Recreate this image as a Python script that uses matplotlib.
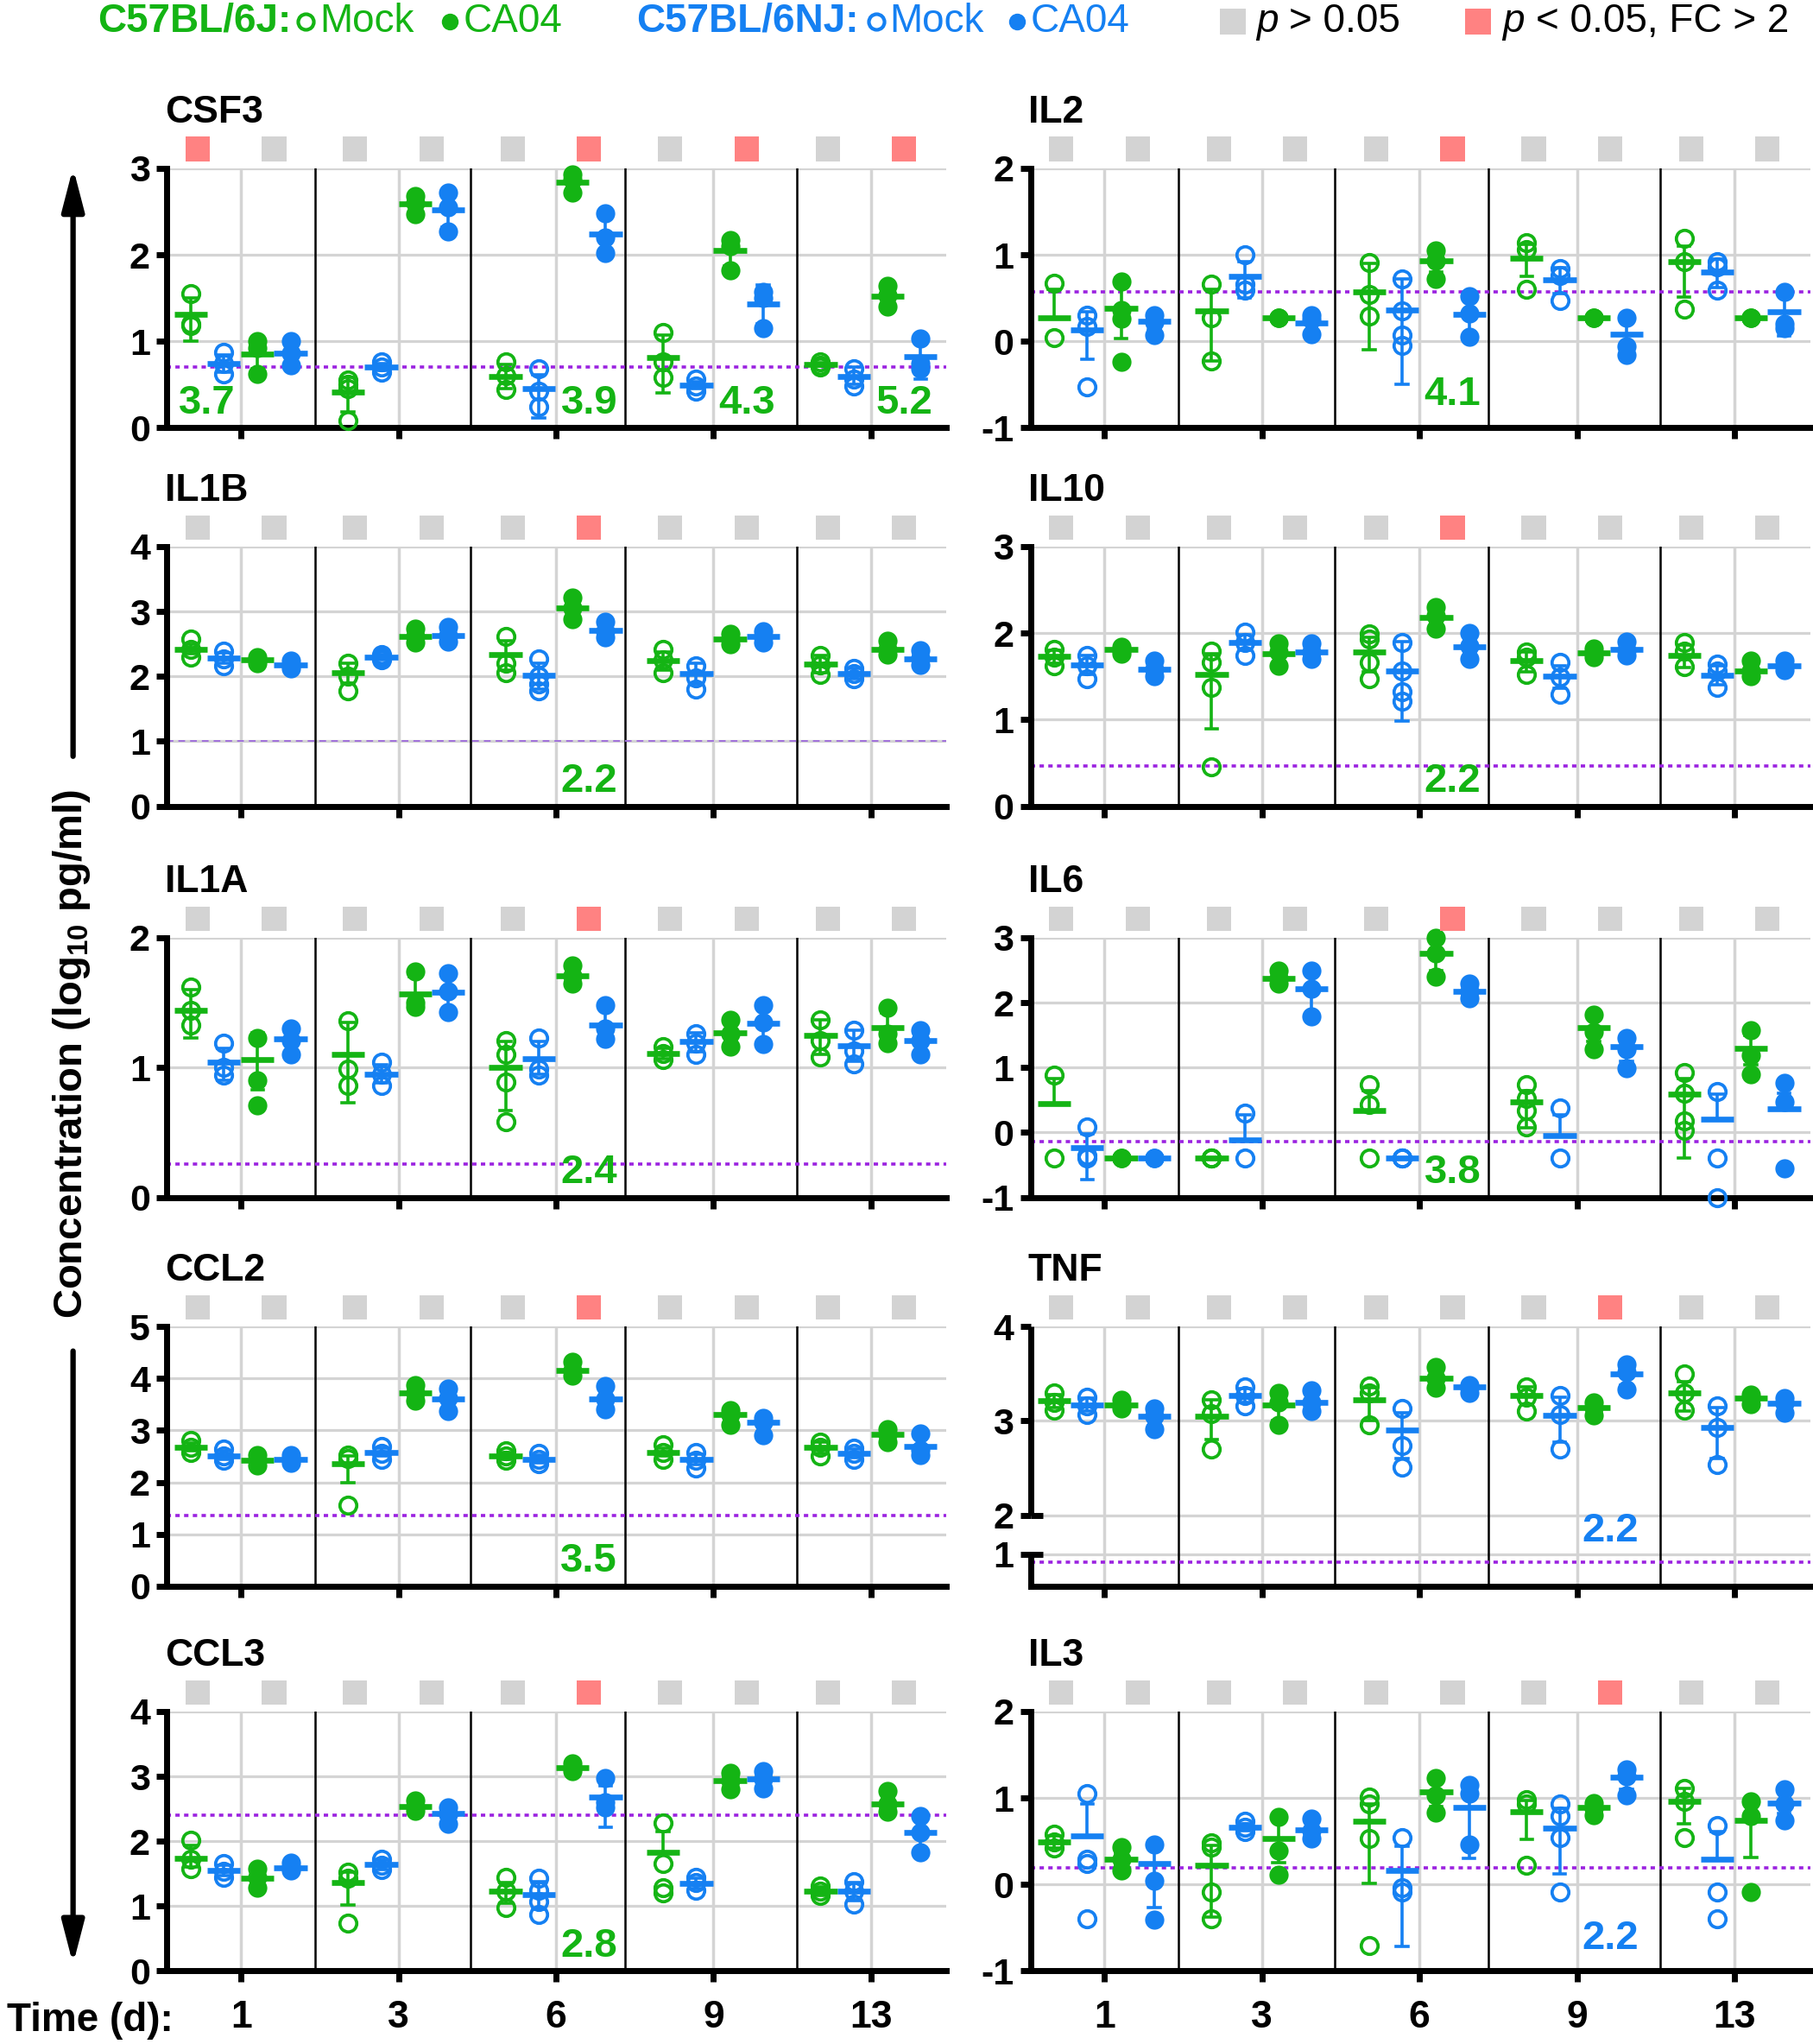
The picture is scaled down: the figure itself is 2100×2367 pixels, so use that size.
import numpy as np
import matplotlib.pyplot as plt
from matplotlib.lines import Line2D
from matplotlib.patches import FancyArrowPatch
from matplotlib.transforms import blended_transform_factory

plt.rcParams['font.family'] = ['Liberation Sans', 'DejaVu Sans']
plt.rcParams['font.weight'] = 'bold'
plt.rcParams['mathtext.fontset'] = 'custom'
plt.rcParams['mathtext.rm'] = 'Liberation Sans'
plt.rcParams['mathtext.bf'] = 'Liberation Sans:bold'

GREEN = '#14B414'
BLUE = '#1580F2'
PURPLE = '#9B22E0'
GRID = '#D4D4D4'
SQ_GREY = '#D3D3D3'
SQ_RED = '#FF8282'

days = ['1', '3', '6', '9', '13']
# group order in each day: 6J mock, 6NJ mock, 6J CA04, 6NJ CA04

# ---------------- CSF3
csf3_pts = [[1.55, 1.2, 1.18], [0.87, 0.74, 0.62], [1.0, 0.92, 0.62], [1.0, 0.86, 0.72],
            [0.55, 0.5, 0.45, 0.08], [0.76, 0.7, 0.64], [2.68, 2.6, 2.47], [2.72, 2.55, 2.27],
            [0.76, 0.6, 0.44], [0.68, 0.42, 0.24], [2.93, 2.87, 2.72], [2.48, 2.2, 2.02],
            [1.1, 0.76, 0.58], [0.56, 0.48, 0.42], [2.17, 2.1, 1.82], [1.57, 1.5, 1.15],
            [0.76, 0.72, 0.7], [0.68, 0.56, 0.48], [1.64, 1.53, 1.4], [1.03, 0.74, 0.68]]
csf3_mean = [1.31, 0.74, 0.85, 0.86, 0.41, 0.70, 2.59, 2.52, 0.59, 0.45, 2.84, 2.24,
             0.81, 0.49, 2.05, 1.43, 0.73, 0.59, 1.52, 0.82]
csf3_lo = [1.0, 0.64, 0.68, 0.74, 0.18, 0.66, 2.5, 2.32, 0.45, 0.11, 2.76, 2.04,
           0.40, 0.45, 1.87, 1.2, 0.71, 0.5, 1.42, 0.56]
csf3_hi = [1.5, 0.84, 1.0, 0.98, 0.58, 0.74, 2.68, 2.72, 0.73, 0.61, 2.92, 2.44,
           1.07, 0.53, 2.2, 1.65, 0.75, 0.7, 1.62, 1.0]
csf3_sig = [1, 0, 0, 0, 0, 1, 0, 1, 0, 1]
csf3_fc = [(0, '3.7', 'g'), (5, '3.9', 'g'), (7, '4.3', 'g'), (9, '5.2', 'g')]

# ---------------- IL2
il2_pts = [[0.67, 0.04], [0.3, 0.17, -0.53], [0.69, 0.36, 0.26, -0.24], [0.3, 0.22, 0.07],
           [0.66, 0.27, -0.23], [1.0, 0.66, 0.59], [0.27, 0.27, 0.27], [0.3, 0.25, 0.08],
           [0.91, 0.54, 0.29], [0.72, 0.35, 0.07, -0.05], [1.05, 0.93, 0.72], [0.52, 0.32, 0.05],
           [1.14, 1.06, 0.6], [0.84, 0.76, 0.47], [0.27, 0.27, 0.27], [0.27, -0.06, -0.16],
           [1.19, 0.92, 0.37], [0.92, 0.86, 0.59], [0.27, 0.27, 0.27], [0.57, 0.2, 0.15]]
il2_mean = [0.27, 0.13, 0.38, 0.23, 0.35, 0.75, 0.27, 0.21, 0.57, 0.36, 0.93, 0.31,
            0.96, 0.71, 0.27, 0.08, 0.92, 0.8, 0.27, 0.34]
il2_lo = [0.27, -0.21, 0.03, 0.13, -0.23, 0.5, 0.27, 0.12, -0.1, -0.5, 0.8, 0.08,
          0.75, 0.55, 0.27, -0.15, 0.51, 0.62, 0.27, 0.06]
il2_hi = [0.6, 0.34, 0.73, 0.32, 0.6, 0.92, 0.27, 0.3, 0.9, 0.72, 1.05, 0.5,
          1.12, 0.85, 0.27, 0.3, 1.1, 0.95, 0.27, 0.57]
il2_sig = [0, 0, 0, 0, 0, 1, 0, 0, 0, 0]
il2_fc = [(5, '4.1', 'g')]

# ---------------- IL1B
il1b_pts = [[2.57, 2.41, 2.3], [2.39, 2.27, 2.16], [2.3, 2.25, 2.2], [2.24, 2.17, 2.12],
            [2.2, 2.0, 1.78], [2.34, 2.29, 2.25], [2.74, 2.62, 2.52], [2.76, 2.63, 2.53],
            [2.61, 2.2, 2.05], [2.27, 2.0, 1.88, 1.78], [3.22, 3.06, 2.88], [2.84, 2.7, 2.6],
            [2.41, 2.25, 2.05], [2.16, 1.98, 1.8], [2.66, 2.57, 2.5], [2.7, 2.6, 2.52],
            [2.32, 2.18, 2.03], [2.12, 2.04, 1.96], [2.55, 2.42, 2.34], [2.4, 2.28, 2.17]]
il1b_mean = [2.42, 2.28, 2.25, 2.17, 2.05, 2.29, 2.62, 2.63, 2.33, 2.02, 3.06, 2.71,
             2.24, 2.04, 2.57, 2.61, 2.19, 2.04, 2.42, 2.27]
il1b_lo = [2.35, 2.2, 2.2, 2.12, 1.9, 2.25, 2.52, 2.53, 2.1, 1.8, 2.9, 2.6,
           2.1, 1.88, 2.5, 2.52, 2.05, 1.96, 2.34, 2.17]
il1b_hi = [2.5, 2.36, 2.3, 2.22, 2.2, 2.33, 2.72, 2.73, 2.55, 2.2, 3.2, 2.82,
           2.38, 2.2, 2.64, 2.7, 2.32, 2.12, 2.5, 2.38]
il1b_sig = [0, 0, 0, 0, 0, 1, 0, 0, 0, 0]
il1b_fc = [(5, '2.2', 'g')]

# ---------------- IL10
il10_pts = [[1.81, 1.72, 1.62], [1.74, 1.62, 1.47], [1.84, 1.8, 1.76], [1.68, 1.58, 1.5],
            [1.79, 1.66, 1.37, 0.45], [2.01, 1.89, 1.74], [1.88, 1.78, 1.62], [1.88, 1.78, 1.7],
            [1.99, 1.93, 1.66, 1.47], [1.89, 1.56, 1.32, 1.21], [2.3, 2.2, 2.05], [2.0, 1.85, 1.7],
            [1.78, 1.72, 1.52], [1.66, 1.49, 1.29], [1.82, 1.77, 1.72], [1.9, 1.8, 1.74],
            [1.89, 1.79, 1.61], [1.64, 1.56, 1.37], [1.68, 1.56, 1.5], [1.68, 1.62, 1.57]]
il10_mean = [1.73, 1.63, 1.81, 1.58, 1.52, 1.89, 1.76, 1.78, 1.78, 1.56, 2.18, 1.84,
             1.68, 1.5, 1.77, 1.81, 1.74, 1.51, 1.56, 1.62]
il10_lo = [1.65, 1.52, 1.76, 1.5, 0.89, 1.8, 1.62, 1.7, 1.55, 0.98, 2.05, 1.7,
           1.55, 1.36, 1.72, 1.74, 1.6, 1.4, 1.5, 1.57]
il10_hi = [1.8, 1.74, 1.86, 1.66, 1.76, 1.98, 1.88, 1.86, 1.95, 1.9, 2.3, 1.98,
           1.78, 1.62, 1.82, 1.88, 1.86, 1.62, 1.64, 1.67]
il10_sig = [0, 0, 0, 0, 0, 1, 0, 0, 0, 0]
il10_fc = [(5, '2.2', 'g')]

# ---------------- IL1A
il1a_pts = [[1.62, 1.44, 1.33], [1.19, 1.0, 0.94], [1.23, 0.9, 0.71], [1.3, 1.21, 1.1],
            [1.36, 0.99, 0.86], [1.04, 0.95, 0.86], [1.74, 1.5, 1.47], [1.73, 1.59, 1.43],
            [1.21, 1.1, 0.89, 0.58], [1.23, 0.99, 0.94], [1.79, 1.71, 1.65], [1.48, 1.3, 1.22],
            [1.16, 1.11, 1.06], [1.26, 1.19, 1.1], [1.37, 1.26, 1.16], [1.48, 1.35, 1.18],
            [1.37, 1.21, 1.08], [1.29, 1.13, 1.03], [1.46, 1.26, 1.19], [1.29, 1.21, 1.1]]
il1a_mean = [1.44, 1.04, 1.06, 1.22, 1.1, 0.95, 1.57, 1.58, 1.0, 1.07, 1.71, 1.33,
             1.11, 1.2, 1.27, 1.34, 1.25, 1.17, 1.31, 1.21]
il1a_lo = [1.23, 0.9, 0.83, 1.12, 0.73, 0.88, 1.47, 1.45, 0.67, 0.95, 1.65, 1.22,
           1.07, 1.12, 1.17, 1.2, 1.1, 1.05, 1.2, 1.12]
il1a_hi = [1.6, 1.15, 1.27, 1.3, 1.35, 1.02, 1.7, 1.7, 1.2, 1.2, 1.78, 1.46,
           1.15, 1.27, 1.36, 1.48, 1.37, 1.29, 1.42, 1.3]
il1a_sig = [0, 0, 0, 0, 0, 1, 0, 0, 0, 0]
il1a_fc = [(5, '2.4', 'g')]

# ---------------- IL6
il6_pts = [[0.88, -0.4], [0.08, -0.35, -0.4], [-0.4, -0.4, -0.4], [-0.4, -0.4, -0.4],
           [-0.4, -0.4, -0.4], [0.3, -0.4], [2.5, 2.38, 2.3], [2.49, 2.22, 1.79],
           [0.74, 0.43, -0.4], [-0.4, -0.4, -0.4], [3.0, 2.76, 2.4], [2.3, 2.17, 2.07],
           [0.74, 0.52, 0.34, 0.09], [0.38, -0.4], [1.82, 1.55, 1.28], [1.46, 1.28, 0.99],
           [0.92, 0.61, 0.18, 0.03], [0.63, -0.4, -1.0], [1.57, 1.19, 0.9], [0.77, 0.47, -0.55]]
il6_mean = [0.44, -0.23, -0.4, -0.4, -0.4, -0.11, 2.38, 2.22, 0.34, -0.4, 2.76, 2.17,
            0.47, -0.05, 1.61, 1.32, 0.59, 0.2, 1.29, 0.36]
il6_lo = [0.44, -0.72, -0.4, -0.4, -0.4, -0.11, 2.3, 1.85, 0.34, -0.4, 2.5, 2.08,
          0.07, -0.05, 1.4, 1.1, -0.39, 0.2, 1.05, 0.36]
il6_hi = [0.83, -0.02, -0.4, -0.4, -0.4, 0.27, 2.46, 2.45, 0.65, -0.4, 2.95, 2.28,
          0.65, 0.27, 1.8, 1.45, 0.83, 0.59, 1.5, 0.6]
il6_sig = [0, 0, 0, 0, 0, 1, 0, 0, 0, 0]
il6_fc = [(5, '3.8', 'g')]

# ---------------- CCL2
ccl2_pts = [[2.81, 2.67, 2.58], [2.64, 2.5, 2.42], [2.52, 2.43, 2.33], [2.52, 2.44, 2.38],
            [2.52, 2.45, 1.56], [2.69, 2.56, 2.44], [3.88, 3.72, 3.58], [3.8, 3.62, 3.38],
            [2.6, 2.5, 2.43], [2.56, 2.44, 2.36], [4.32, 4.16, 4.06], [3.86, 3.6, 3.4],
            [2.72, 2.58, 2.44], [2.58, 2.42, 2.28], [3.39, 3.3, 3.1], [3.24, 3.15, 2.9],
            [2.78, 2.67, 2.5], [2.66, 2.56, 2.44], [3.03, 2.92, 2.77], [2.94, 2.62, 2.52]]
ccl2_mean = [2.67, 2.51, 2.43, 2.44, 2.36, 2.57, 3.72, 3.61, 2.5, 2.44, 4.16, 3.61,
             2.58, 2.44, 3.31, 3.16, 2.67, 2.56, 2.92, 2.69]
ccl2_lo = [2.6, 2.44, 2.35, 2.4, 2.0, 2.5, 3.6, 3.42, 2.44, 2.38, 4.08, 3.42,
           2.5, 2.34, 3.15, 2.98, 2.56, 2.48, 2.8, 2.55]
ccl2_hi = [2.76, 2.6, 2.5, 2.5, 2.5, 2.66, 3.85, 3.78, 2.58, 2.52, 4.28, 3.82,
           2.66, 2.54, 3.42, 3.3, 2.77, 2.64, 3.02, 2.85]
ccl2_sig = [0, 0, 0, 0, 0, 1, 0, 0, 0, 0]
ccl2_fc = [(5, '3.5', 'g')]

# ---------------- TNF
tnf_pts = [[3.3, 3.2, 3.11], [3.25, 3.16, 3.07], [3.22, 3.17, 3.13], [3.13, 3.05, 2.91],
           [3.22, 3.08, 2.7], [3.36, 3.27, 3.16], [3.3, 3.2, 2.96], [3.32, 3.2, 3.1],
           [3.37, 3.3, 2.96], [3.13, 2.74, 2.51], [3.57, 3.45, 3.35], [3.38, 3.35, 3.3],
           [3.36, 3.25, 3.1], [3.27, 3.07, 2.7], [3.2, 3.14, 3.06], [3.6, 3.52, 3.33],
           [3.5, 3.3, 3.11], [3.16, 2.93, 2.54], [3.28, 3.24, 3.18], [3.24, 3.19, 3.09]]
tnf_mean = [3.21, 3.17, 3.17, 3.05, 3.05, 3.27, 3.17, 3.2, 3.22, 2.9, 3.45, 3.36,
            3.27, 3.06, 3.14, 3.5, 3.3, 2.93, 3.24, 3.19]
tnf_lo = [3.14, 3.1, 3.13, 2.95, 2.8, 3.2, 3.0, 3.12, 3.0, 2.6, 3.37, 3.32,
          3.18, 2.77, 3.08, 3.38, 3.1, 2.6, 3.19, 3.1]
tnf_hi = [3.28, 3.24, 3.21, 3.13, 3.22, 3.34, 3.3, 3.28, 3.35, 3.09, 3.55, 3.4,
          3.36, 3.25, 3.2, 3.6, 3.42, 3.14, 3.29, 3.27]
tnf_sig = [0, 0, 0, 0, 0, 0, 0, 1, 0, 0]
tnf_fc = [(7, '2.2', 'b')]

# ---------------- CCL3
ccl3_pts = [[2.01, 1.72, 1.58], [1.65, 1.54, 1.45], [1.58, 1.45, 1.28], [1.67, 1.6, 1.55],
            [1.52, 1.43, 0.74], [1.72, 1.63, 1.56], [2.63, 2.54, 2.47], [2.52, 2.42, 2.27],
            [1.45, 1.23, 0.98], [1.43, 1.25, 1.07, 0.87], [3.2, 3.13, 3.08], [2.97, 2.6, 2.52],
            [2.28, 1.65, 1.29, 1.21], [1.45, 1.36, 1.25], [3.05, 2.93, 2.8], [3.08, 2.96, 2.82],
            [1.31, 1.23, 1.16], [1.38, 1.23, 1.03], [2.78, 2.58, 2.45], [2.39, 2.14, 1.83]]
ccl3_mean = [1.74, 1.55, 1.43, 1.59, 1.36, 1.64, 2.54, 2.43, 1.23, 1.18, 3.13, 2.68,
             1.83, 1.35, 2.94, 2.96, 1.23, 1.23, 2.58, 2.14]
ccl3_lo = [1.6, 1.47, 1.3, 1.55, 1.02, 1.57, 2.47, 2.3, 1.05, 0.95, 3.08, 2.22,
           1.83, 1.27, 2.82, 2.84, 1.17, 1.08, 2.45, 1.9]
ccl3_hi = [1.94, 1.63, 1.56, 1.65, 1.52, 1.71, 2.62, 2.55, 1.37, 1.38, 3.2, 2.85,
           2.15, 1.43, 3.05, 3.07, 1.3, 1.36, 2.72, 2.35]
ccl3_sig = [0, 0, 0, 0, 0, 1, 0, 0, 0, 0]
ccl3_fc = [(5, '2.8', 'g')]

# ---------------- IL3
il3_pts = [[0.58, 0.49, 0.42], [1.05, 0.29, 0.24, -0.4], [0.43, 0.29, 0.16], [0.46, 0.04, -0.41],
           [0.48, 0.43, -0.09, -0.4], [0.73, 0.66, 0.61], [0.78, 0.39, 0.11], [0.76, 0.62, 0.53],
           [1.01, 0.93, 0.53, -0.71], [0.54, -0.04, -0.09], [1.23, 1.03, 0.83], [1.15, 1.05, 0.46],
           [0.98, 0.93, 0.22], [0.93, 0.79, 0.54, -0.09], [0.94, 0.88, 0.8], [1.33, 1.25, 1.03],
           [1.11, 0.96, 0.54], [0.68, -0.09, -0.4], [0.96, 0.79, -0.09], [1.1, 0.93, 0.74]]
il3_mean = [0.49, 0.56, 0.29, 0.24, 0.22, 0.66, 0.53, 0.63, 0.73, 0.16, 1.07, 0.89,
            0.84, 0.65, 0.89, 1.24, 0.96, 0.29, 0.74, 0.94]
il3_lo = [0.42, 0.56, 0.22, -0.27, -0.38, 0.62, 0.25, 0.55, 0.01, -0.72, 0.9, 0.3,
          0.52, 0.12, 0.82, 1.1, 0.7, 0.29, 0.31, 0.82]
il3_hi = [0.56, 0.93, 0.36, 0.5, 0.45, 0.7, 0.75, 0.72, 0.93, 0.44, 1.2, 1.15,
          0.97, 0.88, 0.95, 1.33, 1.11, 0.61, 0.96, 1.06]
il3_sig = [0, 0, 0, 0, 0, 0, 0, 1, 0, 0]
il3_fc = [(7, '2.2', 'b')]

panels = [
    dict(name='CSF3', pts=csf3_pts, mean=csf3_mean, lo=csf3_lo, hi=csf3_hi, sig=csf3_sig,
         fc=csf3_fc, ylim=(0, 3), lod=0.70, col=0, row=0),
    dict(name='IL2', pts=il2_pts, mean=il2_mean, lo=il2_lo, hi=il2_hi, sig=il2_sig,
         fc=il2_fc, ylim=(-1, 2), lod=0.57, col=1, row=0),
    dict(name='IL1B', pts=il1b_pts, mean=il1b_mean, lo=il1b_lo, hi=il1b_hi, sig=il1b_sig,
         fc=il1b_fc, ylim=(0, 4), lod=1.0, col=0, row=1),
    dict(name='IL10', pts=il10_pts, mean=il10_mean, lo=il10_lo, hi=il10_hi, sig=il10_sig,
         fc=il10_fc, ylim=(0, 3), lod=0.46, col=1, row=1),
    dict(name='IL1A', pts=il1a_pts, mean=il1a_mean, lo=il1a_lo, hi=il1a_hi, sig=il1a_sig,
         fc=il1a_fc, ylim=(0, 2), lod=0.26, col=0, row=2),
    dict(name='IL6', pts=il6_pts, mean=il6_mean, lo=il6_lo, hi=il6_hi, sig=il6_sig,
         fc=il6_fc, ylim=(-1, 3), lod=-0.14, col=1, row=2),
    dict(name='CCL2', pts=ccl2_pts, mean=ccl2_mean, lo=ccl2_lo, hi=ccl2_hi, sig=ccl2_sig,
         fc=ccl2_fc, ylim=(0, 5), lod=1.36, col=0, row=3),
    dict(name='TNF', pts=tnf_pts, mean=tnf_mean, lo=tnf_lo, hi=tnf_hi, sig=tnf_sig,
         fc=tnf_fc, ylim=(0.66, 4), lod=0.91, col=1, row=3),
    dict(name='CCL3', pts=ccl3_pts, mean=ccl3_mean, lo=ccl3_lo, hi=ccl3_hi, sig=ccl3_sig,
         fc=ccl3_fc, ylim=(0, 4), lod=2.40, col=0, row=4),
    dict(name='IL3', pts=il3_pts, mean=il3_mean, lo=il3_lo, hi=il3_hi, sig=il3_sig,
         fc=il3_fc, ylim=(-1, 2), lod=0.19, col=1, row=4),
]

# layout
col_x = [0.0921, 0.5684]
row_bottom = [0.7907, 0.6056, 0.4142, 0.2240, 0.0357]
AX_W, AX_H = 0.4300, 0.1270
offsets = [-0.32, -0.11, 0.105, 0.315]
separators = [0.47, 1.46, 2.44, 3.53]
fc_y = {'IL2': 0.056, 'TNF': 0.14, 'IL3': 0.05}


def tnf_fwd(v):
    v = np.asarray(v, dtype=float)
    return np.where(v >= 2, v, np.where(v <= 1, v + 0.587, 1.587 + (v - 1) * 0.413))


def tnf_inv(p):
    p = np.asarray(p, dtype=float)
    return np.where(p >= 2, p, np.where(p <= 1.587, p - 0.587, 1 + (p - 1.587) / 0.413))


fig = plt.figure(figsize=(21, 23.67), dpi=100)

for p in panels:
    ax = fig.add_axes([col_x[p['col']], row_bottom[p['row']], AX_W, AX_H])
    broken = p['name'] == 'TNF'
    if broken:
        ax.set_yscale('function', functions=(tnf_fwd, tnf_inv))
        yticks = [1, 2, 3, 4]
    else:
        yticks = list(range(p['ylim'][0], p['ylim'][1] + 1))
    ax.set_ylim(*p['ylim'])
    ax.set_xlim(-0.47, 4.48)
    blend = blended_transform_factory(ax.transData, ax.transAxes)

    for t in yticks:
        ax.axhline(t, color=GRID, lw=2.3, zorder=0.5)
    for d in range(len(days)):
        ax.axvline(d, color=GRID, lw=2.5, zorder=0.5)
    for s in separators:
        ax.axvline(s, color='black', lw=1.8, zorder=1)

    if p['name'] == 'IL1B':
        ax.axhline(p['lod'], color='#A070DC', lw=1.4, ls=(0, (4, 3)), zorder=2)
    else:
        ax.axhline(p['lod'], color=PURPLE, lw=2.6, ls=(0, (1.4, 1.4)), zorder=2)

    for g in range(20):
        d, k = divmod(g, 4)
        x = d + offsets[k]
        c = GREEN if k % 2 == 0 else BLUE
        ys = p['pts'][g]
        if k < 2:
            ax.plot([x] * len(ys), ys, 'o', ms=14, mfc='none', mec=c, mew=2.7,
                    zorder=3, clip_on=False)
        else:
            ax.plot([x] * len(ys), ys, 'o', ms=16, mfc=c, mec=c, mew=0,
                    zorder=3, clip_on=False)
        m, lo, hi = p['mean'][g], p['lo'][g], p['hi'][g]
        if hi > lo:
            ax.plot([x, x], [lo, hi], color=c, lw=2.6, zorder=4, solid_capstyle='butt')
        if hi > m:
            ax.plot([x - 0.037, x + 0.037], [hi, hi], color=c, lw=2.6, zorder=4)
        if lo < m:
            ax.plot([x - 0.037, x + 0.037], [lo, lo], color=c, lw=2.6, zorder=4)
        ax.plot([x - 0.105, x + 0.105], [m, m], color=c, lw=4.8, zorder=4,
                solid_capstyle='butt')

    # significance squares above each pair
    sq_x = [d + dx for d in range(len(days)) for dx in (-0.275, 0.21)]
    sq_c = [SQ_RED if s else SQ_GREY for s in p['sig']]
    ax.scatter(sq_x, [1.074] * len(sq_x), s=410, marker='s', c=sq_c, linewidths=0,
               transform=blend, clip_on=False, zorder=5)

    for idx, txt, cc in p['fc']:
        d, side = divmod(idx, 2)
        lx = d + (-0.215 if side == 0 else 0.21)
        ax.text(lx, fc_y.get(p['name'], 0.022), txt, transform=blend, ha='center',
                va='bottom', fontsize=34, fontweight='bold',
                color=GREEN if cc == 'g' else BLUE, zorder=6)

    ax.text(-0.003, 1.177, p['name'], transform=ax.transAxes, fontsize=32,
            fontweight='bold', va='baseline', ha='left')

    ax.set_yticks(yticks)
    ax.set_yticklabels([str(t) for t in yticks])
    ax.set_xticks(range(len(days)))
    if p['row'] == 4:
        ax.set_xticklabels(days)
    else:
        ax.set_xticklabels([])
    ax.tick_params(axis='y', direction='out', length=9, width=5, labelsize=31, pad=5)
    ax.tick_params(axis='x', direction='out', length=9, width=5, labelsize=32, pad=15)
    ax.grid(False)
    for side in ('top', 'right'):
        ax.spines[side].set_visible(False)
    ax.spines['bottom'].set_linewidth(5)
    ax.spines['left'].set_linewidth(5)
    if broken:
        ax.spines['left'].set_visible(False)
        yt = ax.get_yaxis_transform()
        ax.plot([0, 0], [2, 4], transform=yt, color='black', lw=5, clip_on=False,
                solid_capstyle='butt', zorder=6)
        ax.plot([0, 0], [0.66, 1], transform=yt, color='black', lw=5, clip_on=False,
                solid_capstyle='projecting', zorder=6)
        for b in (1, 2):
            ax.plot([0, 0.016], [b, b], transform=yt, color='black', lw=5,
                    clip_on=False, solid_capstyle='butt', zorder=6)

# y label with split arrow
fig.text(0.0396, 0.4844, 'Concentration (log$_{\\mathbf{10}}$ pg/ml)', rotation=90,
         ha='center', va='center', fontsize=34, fontweight='bold')
for y0, y1 in [(0.630, 0.918), (0.339, 0.039)]:
    fig.add_artist(FancyArrowPatch((0.0403, y0), (0.0403, y1), transform=fig.transFigure,
                                   arrowstyle='-|>,head_length=1.0,head_width=0.26',
                                   mutation_scale=30, lw=4.5, color='black',
                                   shrinkA=0, shrinkB=0))

fig.text(0.0036, 0.0209, 'Time (d):', ha='left', va='top', fontsize=33, fontweight='bold')

# legend row
LY = 0.9895
P_W = 0.0182  # width of italic "p" plus a space at 33 pt, in figure fraction
fig.text(0.054, LY, 'C57BL/6J:', color=GREEN, fontsize=33, fontweight='bold', va='center')
fig.add_artist(Line2D([0.1685], [LY], transform=fig.transFigure, marker='o', ms=13,
                      mfc='none', mec=GREEN, mew=3.0))
fig.text(0.1765, LY, 'Mock', color=GREEN, fontsize=33, fontweight='normal', va='center')
fig.add_artist(Line2D([0.248], [LY], transform=fig.transFigure, marker='o', ms=14,
                      mfc=GREEN, mec=GREEN, mew=0))
fig.text(0.2555, LY, 'CA04', color=GREEN, fontsize=33, fontweight='normal', va='center')

fig.text(0.351, LY, 'C57BL/6NJ:', color=BLUE, fontsize=33, fontweight='bold', va='center')
fig.add_artist(Line2D([0.4832], [LY], transform=fig.transFigure, marker='o', ms=13,
                      mfc='none', mec=BLUE, mew=3.0))
fig.text(0.4905, LY, 'Mock', color=BLUE, fontsize=33, fontweight='normal', va='center')
fig.add_artist(Line2D([0.561], [LY], transform=fig.transFigure, marker='o', ms=14,
                      mfc=BLUE, mec=BLUE, mew=0))
fig.text(0.5685, LY, 'CA04', color=BLUE, fontsize=33, fontweight='normal', va='center')

fig.add_artist(Line2D([0.680], [LY], transform=fig.transFigure, marker='s', ms=21,
                      mfc=SQ_GREY, mec=SQ_GREY, mew=0))
fig.text(0.6928, LY, 'p', color='black', fontsize=33, fontweight='normal',
         style='italic', va='center')
fig.text(0.6928 + P_W, LY, '> 0.05', color='black', fontsize=33, fontweight='normal',
         va='center')
fig.add_artist(Line2D([0.815], [LY], transform=fig.transFigure, marker='s', ms=21,
                      mfc=SQ_RED, mec=SQ_RED, mew=0))
fig.text(0.8288, LY, 'p', color='black', fontsize=33, fontweight='normal',
         style='italic', va='center')
fig.text(0.8288 + P_W, LY, '< 0.05, FC > 2', color='black', fontsize=33,
         fontweight='normal', va='center')

fig.savefig('out.png', dpi=100)
